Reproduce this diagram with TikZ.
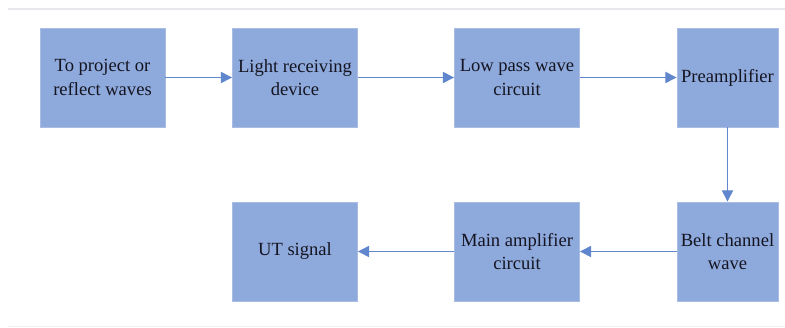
\documentclass[tikz,border=0pt]{standalone}
\usepackage{fontspec}
\setmainfont{Liberation Serif}
\usetikzlibrary{
    arrows.meta,
    positioning
}
\definecolor{boxfill}{HTML}{8EA9DB}
\definecolor{boxline}{HTML}{A9BCE2}
\definecolor{flowline}{HTML}{4472C4}
\definecolor{rulegray}{HTML}{E6E8EC}
\definecolor{textdark}{HTML}{151522}

\begin{document}
\begin{tikzpicture}[
    x=0.025cm, y=-0.025cm,
    block/.style={rectangle, draw=boxline, line width=0.6pt, fill=boxfill, text=textdark,
        minimum width=3.125cm, minimum height=2.475cm, align=center,
        font=\fontsize{13.2}{16.5}\selectfont, inner sep=2pt},
    narrow/.style={minimum width=2.525cm},
    flow/.style={draw=flowline!85, line width=0.9pt, -{Triangle[length=8pt, width=8pt]}}
]
\useasboundingbox (0,0) rectangle (785,328);

% Rules
\draw[rulegray, line width=0.8pt] (8,9) -- (785,9);
\draw[rulegray!70, line width=0.6pt] (8,326) -- (785,326);

% Top row
\node[block] (project) at (102.5,77.5) {To project or\\reflect waves};
\node[block] (receiver) at (295,77.5) {Light receiving\\device};
\node[block] (lowpass) at (517,77.5) {Low pass wave\\circuit};
\node[block, narrow] (preamp) at (727.5,77.5) {Preamplifier};

% Bottom row
\node[block, narrow] (belt) at (727.5,251.5) {Belt channel\\wave};
\node[block] (mainamp) at (517,251.5) {Main amplifier\\circuit};
\node[block] (utsignal) at (295,251.5) {UT signal};

% Connectors
\draw[flow] (project) -- (receiver);
\draw[flow] (receiver) -- (lowpass);
\draw[flow] (lowpass) -- (preamp);
\draw[flow] (preamp) -- (belt);
\draw[flow] (belt) -- (mainamp);
\draw[flow] (mainamp) -- (utsignal);
\end{tikzpicture}
\end{document}
